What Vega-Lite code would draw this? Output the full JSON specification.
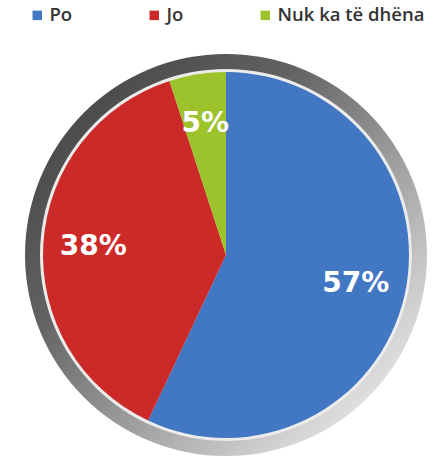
{
  "$schema": "https://vega.github.io/schema/vega-lite/v6.json",
  "autosize": {"type": "none"},
  "width": 434,
  "height": 422,
  "padding": {"left": 9, "top": 44, "right": 0, "bottom": 0},
  "background": "white",
  "config": {"view": {"stroke": null}},
  "data": {
    "values": [
      {"answer": "Po", "share": 0.57},
      {"answer": "Jo", "share": 0.38},
      {"answer": "Nuk ka të dhëna", "share": 0.05}
    ]
  },
  "layer": [
    {
      "mark": {
        "type": "arc",
        "outerRadius": 201,
        "color": {
          "gradient": "linear",
          "x1": 0, "y1": 0, "x2": 1, "y2": 1,
          "stops": [
            {"offset": 0, "color": "#3c3c3c"},
            {"offset": 0.35, "color": "#626262"},
            {"offset": 0.6, "color": "#a0a0a0"},
            {"offset": 0.85, "color": "#dedede"},
            {"offset": 1, "color": "#c8c8c8"}
          ]
        }
      },
      "encoding": {
        "theta": {"aggregate": "sum", "field": "share", "type": "quantitative"}
      }
    },
    {
      "mark": {"type": "arc", "outerRadius": 186, "color": "#ececec"},
      "encoding": {
        "theta": {"aggregate": "sum", "field": "share", "type": "quantitative"}
      }
    },
    {
      "mark": {"type": "arc", "outerRadius": 183, "stroke": null},
      "encoding": {
        "theta": {"field": "share", "type": "quantitative", "stack": true},
        "order": {"field": "share", "type": "quantitative", "sort": "descending"},
        "color": {
          "field": "answer",
          "type": "nominal",
          "scale": {
            "domain": ["Po", "Jo", "Nuk ka të dhëna"],
            "range": ["#4277c4", "#cc2a28", "#9cc22c"]
          },
          "legend": {
            "title": null,
            "orient": "none",
            "direction": "horizontal",
            "legendX": 19,
            "legendY": -38,
            "symbolType": "square",
            "symbolSize": 90,
            "symbolStrokeWidth": 0,
            "labelFont": "Open Sans",
            "labelFontSize": 18.5,
            "labelFontWeight": 600,
            "labelColor": "#333333",
            "labelOffset": 3,
            "columnPadding": 72,
            "labelLimit": 300
          }
        }
      }
    },
    {
      "mark": {
        "type": "text",
        "radius": 133,
        "font": "DejaVu Sans",
        "fontSize": 28,
        "fontWeight": "bold",
        "color": "white"
      },
      "encoding": {
        "theta": {"field": "share", "type": "quantitative", "stack": true},
        "order": {"field": "share", "type": "quantitative", "sort": "descending"},
        "text": {"field": "share", "type": "quantitative", "format": ".0%"}
      }
    }
  ]
}
